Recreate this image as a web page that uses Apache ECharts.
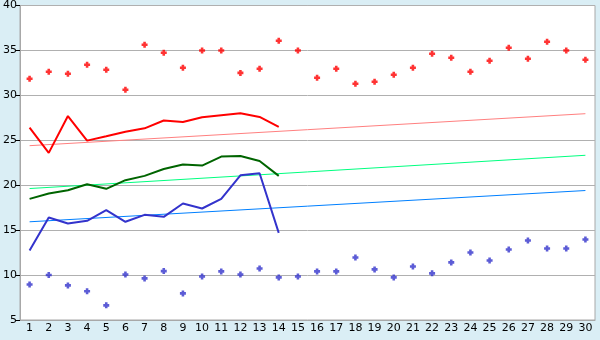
<!DOCTYPE html>
<html><head><meta charset="utf-8">
<script src="https://cdn.jsdelivr.net/npm/echarts@6/dist/echarts.min.js"></script>
<style>html,body{margin:0;padding:0;background:#daeef5}#c{width:600px;height:340px}</style>
</head><body><div id="c"></div>
<script>
const categories = ['1','2','3','4','5','6','7','8','9','10','11','12','13','14','15','16','17','18','19','20','21','22','23','24','25','26','27','28','29','30'];
const redPoints = [31.85,32.63,32.4,33.4,32.85,30.63,35.63,34.74,33.07,35,35,32.5,32.96,36.07,35,31.96,32.96,31.3,31.52,32.3,33.07,34.63,34.18,32.63,33.85,35.3,34.07,35.96,35,33.96];
const bluePoints = [8.96,10,8.85,8.19,6.63,10.07,9.63,10.44,7.96,9.85,10.41,10.07,10.74,9.74,9.85,10.41,10.41,11.96,10.63,9.74,10.96,10.19,11.41,12.52,11.63,12.85,13.85,12.96,12.96,13.96];
const redLine = [26.41,23.6,27.7,24.96,25.44,25.96,26.33,27.2,27.04,27.56,27.78,28.0,27.6,26.48];
const greenLine = [18.48,19.07,19.44,20.11,19.6,20.56,21.04,21.8,22.3,22.19,23.19,23.26,22.7,21.04];
const blueLine = [12.74,16.41,15.74,16.04,17.22,15.93,16.7,16.48,17.96,17.41,18.48,21.1,21.33,14.7];
const redTrend = [24.4, 27.96];
const greenTrend = [19.63, 23.33];
const blueTrend = [15.93, 19.41];
const yTicks = [5,10,15,20,25,30,35,40];

const sym = 'path://M2,0H5V2H7V5H5V7H2V5H0V2H2Z';
const first = categories[0], last = categories[categories.length-1];
function trend(t){ return [[first, t[0]], [last, t[1]]]; }

const chart = echarts.init(document.getElementById('c'), null, {renderer:'canvas'});
const font = 'DejaVu Sans';
chart.setOption({
  backgroundColor: '#daeef5',
  animation: false,
  grid: {left: 20, right: 5, top: 5, bottom: 20, show: true, backgroundColor: '#ffffff', borderColor: '#a8a8a8', borderWidth: 1},
  xAxis: {
    type: 'category', data: categories, boundaryGap: true,
    axisLine: {lineStyle: {color: '#a8a8a8', width: 1}},
    axisTick: {alignWithLabel: true, length: 5, lineStyle: {color: '#000'}},
    axisLabel: {color: '#000', fontFamily: font, fontSize: 11, margin: 3, interval: 0},
    splitLine: {show: false}
  },
  yAxis: {
    type: 'value', min: yTicks[0], max: yTicks[yTicks.length-1], interval: 5,
    axisLine: {show: true, lineStyle: {color: '#a8a8a8', width: 1}},
    axisTick: {show: true, length: 4, lineStyle: {color: '#000'}},
    axisLabel: {color: '#000', fontFamily: font, fontSize: 11, margin: 3},
    splitLine: {lineStyle: {color: '#b0b0b0', width: 1}}
  },
  series: [
    {type: 'line', data: trend(redTrend), symbol: 'none', lineStyle: {color: '#ff8080', width: 1}, z: 2},
    {type: 'line', data: trend(greenTrend), symbol: 'none', lineStyle: {color: '#00ff80', width: 1}, z: 2},
    {type: 'line', data: trend(blueTrend), symbol: 'none', lineStyle: {color: '#0080ff', width: 1}, z: 2},
    {type: 'line', data: redLine, symbol: 'none', lineStyle: {color: '#ff0000', width: 2}, z: 3},
    {type: 'line', data: greenLine, symbol: 'none', lineStyle: {color: '#006400', width: 2}, z: 3},
    {type: 'line', data: blueLine, symbol: 'none', lineStyle: {color: '#3333cc', width: 2}, z: 3},
    {type: 'scatter', data: redPoints, symbol: sym, symbolSize: 6, itemStyle: {color: '#ff0000'}, z: 4},
    {type: 'scatter', data: bluePoints, symbol: sym, symbolSize: 6, itemStyle: {color: '#3333cc'}, z: 4}
  ]
});
</script></body></html>
